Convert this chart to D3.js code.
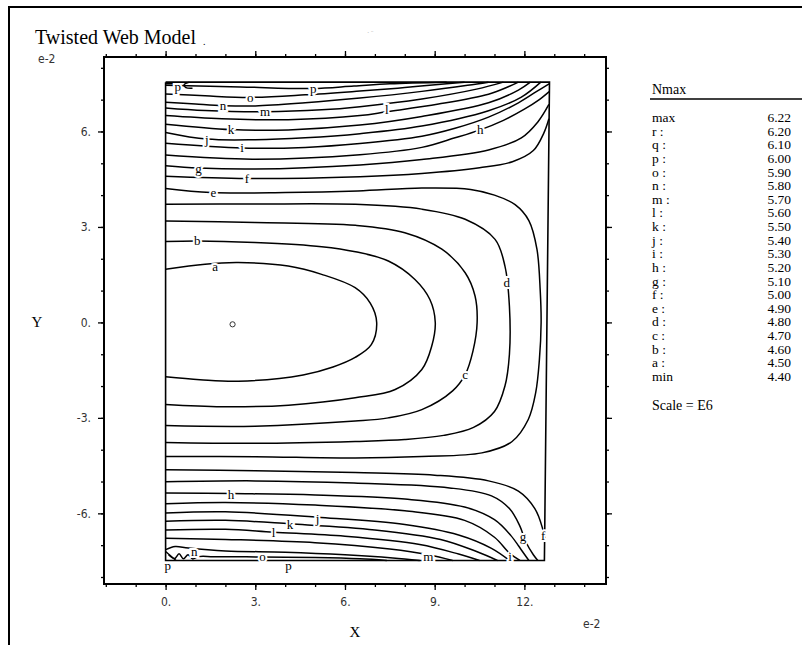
<!DOCTYPE html>
<html>
<head>
<meta charset="utf-8">
<script src="https://cdn.jsdelivr.net/npm/d3@7"></script>
<style>
  body { margin: 0; background: #fff; }
  svg { display: block; }
</style>
</head>
<body>
<div class="canvas"></div>
<script>
// contour levels shown in the legend (Scale = E6)
const levelNames  = ['max', 'r :', 'q :', 'p :', 'o :', 'n :', 'm :', 'l :', 'k :', 'j :', 'i :', 'h :', 'g :', 'f :', 'e :', 'd :', 'c :', 'b :', 'a :', 'min'];
const levelValues = ['6.22', '6.20', '6.10', '6.00', '5.90', '5.80', '5.70', '5.60', '5.50', '5.40', '5.30', '5.20', '5.10', '5.00', '4.90', '4.80', '4.70', '4.60', '4.50', '4.40'];

// axis ticks (units e-2)
const xMajorTicks = [0, 3, 6, 9, 12];
const yMajorTicks = [-6, -3, 0, 3, 6];
const xMinorTicks = d3.range(-2, 15);
const yMinorTicks = d3.range(-8, 9);

// outline of the web (x, y in e-2)
const webOutline = [[0, 7.55], [12.84, 7.55], [12.67, -7.48], [0, -7.48], [0, 7.55]];

// closed-ended contours a..e (open to the left edge)
const lineA = [[0,1.67],[1.32,1.83],[2.43,1.88],[4.1,1.77],[5.22,1.51],[6.34,1.09],[6.85,0.6],[7.06,0],[6.88,-0.7],[6.34,-1.1],[5.6,-1.4],[4.6,-1.65],[2.43,-1.85],[1.15,-1.8],[0,-1.71]];
const lineB = [[0,2.54],[1.06,2.56],[2.99,2.51],[5.22,2.38],[6.35,2.22],[7.45,1.93],[8.34,1.35],[8.84,0.72],[9.02,0],[8.9,-0.75],[8.57,-1.48],[7.68,-2.11],[6.34,-2.37],[4.11,-2.6],[1.88,-2.65],[0,-2.58]];
const lineC = [[0,3.19],[2.99,3.14],[6.35,3.05],[8.0,2.82],[9.24,2.3],[10.02,1.56],[10.35,0.83],[10.42,0],[10.28,-0.9],[10.02,-1.64],[9.6,-2.15],[8.57,-2.74],[7.45,-3.0],[6.34,-3.1],[2.99,-3.26],[0,-3.24]];
const lineD = [[0,3.71],[3,3.72],[6.35,3.71],[8.57,3.56],[10.02,3.24],[11.02,2.61],[11.35,1.77],[11.5,0.5],[11.5,-1.0],[11.35,-2.0],[11.0,-2.8],[10.3,-3.3],[9.3,-3.55],[8,-3.68],[6.34,-3.74],[3,-3.8],[0,-3.77]];
const lineE = [[0,4.21],[1.51,4.08],[4,4.08],[6.43,4.13],[8.57,4.22],[10.2,4.18],[11.0,4.0],[11.69,3.7],[12.15,3.2],[12.42,2.3],[12.53,1.0],[12.56,0],[12.5,-1.2],[12.38,-2.2],[12.13,-3.05],[11.58,-3.75],[10.58,-4.1],[8.57,-4.21],[6.34,-4.26],[3,-4.22],[0,-4.21]];

// upper band f..p
const topF = [[0,4.59],[2.72,4.52],[6.5,4.58],[8.57,4.68],[10.5,4.86],[11.6,5.05],[12.3,5.4],[12.65,5.95],[12.82,6.4]];
const topG = [[0,4.92],[1.1,4.85],[2.99,4.82],[6.5,4.95],[8.57,5.12],[10.8,5.42],[11.9,5.8],[12.45,6.3],[12.82,6.85]];
const topH = [[0,5.26],[2.9,5.13],[6.5,5.27],[8.57,5.5],[9.68,5.8],[10.52,6.05],[11.3,6.35],[12.0,6.7],[12.5,7.0],[12.83,7.25]];
const topI = [[0,5.63],[2.57,5.48],[4.67,5.5],[6.5,5.62],[8.57,5.85],[9.68,6.1],[10.8,6.45],[11.8,6.9],[12.4,7.25],[12.84,7.5]];
const topJ = [[0,5.97],[1.38,5.76],[3.0,5.74],[4.67,5.8],[6.5,5.93],[8.57,6.17],[10.8,6.65],[11.9,7.08],[12.55,7.55]];
const topK = [[0,6.23],[2.19,6.06],[4.1,6.05],[6.5,6.2],[8.57,6.47],[10.8,6.9],[11.8,7.3],[12.2,7.55]];
const topL = [[0,6.5],[1.88,6.4],[4.1,6.37],[6.5,6.5],[7.4,6.62],[9.13,6.86],[10.8,7.17],[11.5,7.42],[11.8,7.55]];
const topM = [[0,6.74],[1.32,6.66],[3.33,6.62],[5.22,6.68],[6.5,6.78],[8.57,7.02],[10.4,7.33],[11.3,7.55]];
const topN = [[0,6.92],[1.0,6.86],[1.93,6.81],[3.0,6.8],[4.67,6.9],[6.5,7.05],[8.57,7.26],[10.1,7.45],[10.8,7.55]];
const topO = [[0,7.18],[1.32,7.12],[2.83,7.07],[4.67,7.15],[6.5,7.27],[8.0,7.38],[9.4,7.5],[10.0,7.55]];
const topP = [[0,7.45],[2.5,7.4],[4.9,7.35],[6.3,7.43],[7.5,7.5],[9.4,7.55]];
const topCornerQ = [[0,7.5],[0.25,7.5]];
const topCornerCurl = [[0.8,7.55],[0.62,7.47],[0.68,7.38],[0.9,7.36]];

// lower band f..o
const botF = [[0,-4.63],[3,-4.66],[6.34,-4.72],[9.0,-4.8],[10.8,-4.98],[11.8,-5.3],[12.35,-5.85],[12.6,-6.45],[12.68,-6.9]];
const botG = [[0,-5.01],[3,-4.98],[6.3,-5.05],[9.5,-5.2],[10.9,-5.45],[11.5,-5.85],[11.85,-6.4],[12.05,-6.9],[12.3,-7.3],[12.45,-7.48]];
const botH = [[0,-5.36],[2.2,-5.38],[5,-5.42],[8,-5.55],[10,-5.8],[11.0,-6.2],[11.55,-6.7],[11.9,-7.15],[12.15,-7.48]];
const botI = [[0,-5.70],[2,-5.66],[5,-5.74],[8,-5.92],[10,-6.22],[11.0,-6.75],[11.5,-7.25],[11.85,-7.48]];
const botJ = [[0,-5.99],[2,-5.95],[5.08,-6.12],[8,-6.35],[9.8,-6.68],[10.9,-7.1],[11.5,-7.48]];
const botK = [[0,-6.25],[2,-6.22],[4.16,-6.33],[7,-6.52],[9.2,-6.82],[10.4,-7.2],[11.1,-7.48]];
const botL = [[0,-6.52],[2,-6.5],[3.61,-6.59],[6,-6.72],[8.5,-6.98],[9.8,-7.28],[10.5,-7.48]];
const botM = [[0,-6.78],[2,-6.82],[5,-6.92],[7.5,-7.12],[8.79,-7.3],[9.6,-7.48]];
const botN = [[0,-7.14],[0.32,-7.04],[0.76,-7.09],[2,-7.18],[4,-7.22],[6,-7.3],[7.6,-7.4],[8.5,-7.48]];
const botO = [[0.1,-7.3],[0.3,-7.42],[0.45,-7.27],[0.6,-7.43],[0.75,-7.3],[0.9,-7.43],[1.1,-7.36],[1.6,-7.36],[3.24,-7.37],[5,-7.39],[6.5,-7.43],[7.4,-7.48]];
const botCorner = [[0,-7.2],[0.35,-7.48]];

// contour letters placed on the lines
const labelLetters = ['p','p','o','n','m','l','k','j','i','h','g','f','e','b','a','d','c','h','j','k','l','n','o','p','p','m','i','g','f'];
const labelX = [0.41,4.94,2.83,1.92,3.33,7.40,2.19,1.38,2.56,10.52,1.10,2.72,1.60,1.06,1.66,11.41,10.02,2.19,5.08,4.16,3.61,0.96,3.24,0.07,4.11,8.79,11.52,11.95,12.63];
const labelY = [7.39,7.33,7.07,6.81,6.62,6.68,6.04,5.74,5.47,6.05,4.84,4.50,4.06,2.56,1.75,1.25,-1.64,-5.41,-6.17,-6.36,-6.62,-7.20,-7.37,-7.64,-7.64,-7.37,-7.36,-6.73,-6.70];

// location of the minimum
const minPoint = [2.24, -0.06];

//---------------------------
const width = 802, height = 645;
const serif = "'Liberation Serif', 'Times New Roman', serif";
const narrow = "'Liberation Sans Narrow', 'DejaVu Sans Condensed', 'Liberation Sans', sans-serif";

const svg = d3.select('.canvas').append('svg')
    .attr('width', width)
    .attr('height', height);

svg.append('rect').attr('width', width).attr('height', height).attr('fill', '#fff');

// outer page border (runs off the picture right and bottom)
svg.append('path')
    .attr('d', `M9,${height + 5} V7 H${width + 5}`)
    .attr('fill', 'none').attr('stroke', '#000').attr('stroke-width', 2);

svg.append('text').attr('x', 35).attr('y', 44)
    .attr('font-family', serif).attr('font-size', 20)
    .text('Twisted Web Model');
svg.append('text').attr('x', 203).attr('y', 45)
    .attr('font-family', serif).attr('font-size', 10).text('.');
svg.append('text').attr('x', 367).attr('y', 35)
    .attr('font-family', serif).attr('font-size', 7).attr('fill', '#999').text('·  ¨');

// scales
const x = d3.scaleLinear().domain([-2.06, 14.73]).range([104, 606]);
const y = d3.scaleLinear().domain([-8.22, 8.34]).range([584, 57]);

const plot = svg.append('g');

// axes: minor ticks, then major ticks with labels
function drawAxis(axisFn, transform, minor, major, labels) {
    const gMinor = plot.append('g').attr('transform', transform)
        .call(axisFn(minor === 'x' ? x : y).tickValues(minor === 'x' ? xMinorTicks : yMinorTicks)
            .tickSize(3).tickSizeOuter(0).tickFormat(''));
    const gMajor = plot.append('g').attr('transform', transform)
        .call(axisFn(minor === 'x' ? x : y).tickValues(major)
            .tickSize(6).tickSizeOuter(0).tickPadding(7)
            .tickFormat(labels ? d => `${d}.` : ''));
    [gMinor, gMajor].forEach(g => {
        g.select('.domain').remove();
        g.selectAll('line').attr('stroke', '#000').attr('stroke-width', 1.3);
        g.selectAll('text').attr('font-family', narrow).attr('font-size', 12).attr('fill', '#333');
    });
}
drawAxis(d3.axisBottom, 'translate(0,584)', 'x', xMajorTicks, true);
drawAxis(d3.axisTop, 'translate(0,57)', 'x', xMajorTicks, false);
drawAxis(d3.axisLeft, 'translate(104,0)', 'y', yMajorTicks, true);
drawAxis(d3.axisRight, 'translate(606,0)', 'y', yMajorTicks, false);

// frame
plot.append('rect')
    .attr('x', x.range()[0]).attr('y', y.range()[1])
    .attr('width', x.range()[1] - x.range()[0])
    .attr('height', y.range()[0] - y.range()[1])
    .attr('fill', 'none').attr('stroke', '#000').attr('stroke-width', 2);

svg.append('text').attr('x', 38).attr('y', 63)
    .attr('font-family', narrow).attr('font-size', 12).attr('fill', '#333').text('e-2');
svg.append('text').attr('x', 583).attr('y', 628)
    .attr('font-family', narrow).attr('font-size', 12).attr('fill', '#333').text('e-2');
svg.append('text').attr('x', 37).attr('y', 327).attr('text-anchor', 'middle')
    .attr('font-family', serif).attr('font-size', 15).text('Y');
svg.append('text').attr('x', 355).attr('y', 637).attr('text-anchor', 'middle')
    .attr('font-family', serif).attr('font-size', 15).text('X');

// contours
const contourLines = [lineA, lineB, lineC, lineD, lineE,
    topF, topG, topH, topI, topJ, topK, topL, topM, topN, topO, topP, topCornerQ, topCornerCurl,
    botF, botG, botH, botI, botJ, botK, botL, botM, botN, botO, botCorner];

const curve = d3.line()
    .x(d => x(d[0]))
    .y(d => y(d[1]))
    .curve(d3.curveCatmullRom.alpha(0.5));

const web = plot.append('g');

web.append('path')
    .attr('d', d3.line().x(d => x(d[0])).y(d => y(d[1]))(webOutline))
    .attr('fill', 'none').attr('stroke', '#000').attr('stroke-width', 1.6);

web.selectAll('path.contour')
    .data(contourLines)
    .enter().append('path')
    .attr('class', 'contour')
    .attr('d', curve)
    .attr('fill', 'none')
    .attr('stroke', '#000')
    .attr('stroke-width', 1.5);

web.selectAll('text.lab')
    .data(labelLetters)
    .enter().append('text')
    .attr('class', 'lab')
    .attr('x', (d, i) => x(labelX[i]))
    .attr('y', (d, i) => y(labelY[i]))
    .attr('dy', '0.32em')
    .attr('text-anchor', 'middle')
    .attr('font-family', serif)
    .attr('font-size', 13)
    .attr('stroke', '#fff').attr('stroke-width', 4).attr('paint-order', 'stroke')
    .text(d => d);

web.append('circle')
    .attr('cx', x(minPoint[0])).attr('cy', y(minPoint[1]))
    .attr('r', 2.6).attr('fill', 'none').attr('stroke', '#333').attr('stroke-width', 1);

// legend
const legend = svg.append('g');
legend.append('text').attr('x', 652).attr('y', 94)
    .attr('font-family', serif).attr('font-size', 14).text('Nmax');
legend.append('line').attr('x1', 650).attr('x2', 802).attr('y1', 99).attr('y2', 99)
    .attr('stroke', '#000').attr('stroke-width', 1.3);

const rowY = d3.scalePoint().domain(d3.range(levelNames.length)).range([122, 381]);
legend.selectAll('text.name')
    .data(levelNames).enter().append('text')
    .attr('class', 'name')
    .attr('x', 652).attr('y', (d, i) => rowY(i))
    .attr('font-family', serif).attr('font-size', 13.5)
    .text(d => d);
legend.selectAll('text.val')
    .data(levelValues).enter().append('text')
    .attr('class', 'val')
    .attr('x', 791).attr('y', (d, i) => rowY(i))
    .attr('text-anchor', 'end')
    .attr('font-family', serif).attr('font-size', 13.5)
    .text(d => d);
legend.append('text').attr('x', 652).attr('y', 410)
    .attr('font-family', serif).attr('font-size', 14).text('Scale = E6');
</script>
</body>
</html>
